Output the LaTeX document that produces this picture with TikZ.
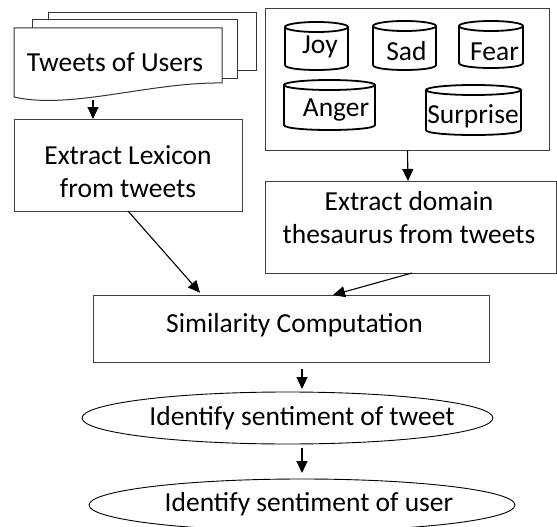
\documentclass[tikz,border=0pt]{standalone}
\usepackage{fontspec}
\setmainfont{Carlito}
\usetikzlibrary{arrows.meta,shapes.geometric,calc}

% cylinder drum: #1 left x, #2 right x, #3 top y, #4 bottom y (ellipse half-height 5)
\newcommand\drum[4]{%
  \path[drumline] (#1,#3+5) -- (#1,#4-5)
     .. controls (#1,#4+1.67) and (#2,#4+1.67) .. (#2,#4-5) -- (#2,#3+5);
  \path[drumline] ({(#1+#2)/2},#3+5) ellipse [x radius={(#2-#1)/2}, y radius=5];
}

\tikzset{
  every node/.style={font=\fontsize{27.5}{33}\selectfont, inner sep=0pt, outer sep=0pt},
  box/.style={draw=black!75, line width=1pt, fill=white, rectangle},
  sheet/.style={draw=black!80, line width=1pt, fill=white},
  oval/.style={draw=black, line width=0.9pt, ellipse},
  drumline/.style={draw=black, line width=1.8pt, fill=white},
  arr/.style={draw=black, line width=1.1pt, -{Triangle[length=12pt,width=11pt]}},
  lbl/.style={anchor=base, align=center},
}

\begin{document}
\begin{tikzpicture}[x=1pt, y=-1pt]
\useasboundingbox (0,0) rectangle (557,527);

% stack of tweet sheets
\path[sheet] (48,13) rectangle (256,71);
\path[sheet] (32,20) rectangle (237,79);
\path[sheet] (14,28) -- (222,28) -- (222,83)
   .. controls (150,82) and (70,110) .. (14,97) -- cycle;
\node[lbl] (tweets) at (115,71) {Tweets of Users};
\coordinate (tweetsbot) at (93,100);

% emotion lexicon container
\node[box, minimum width=284pt, minimum height=141pt] (thes) at (407,79.5) {};
\drum{285}{348}{22}{70}
\drum{373}{436}{21}{70}
\drum{459}{523}{21}{68}
\drum{284}{375}{80}{130}
\drum{426}{521}{85}{135}
\node[lbl] (joy) at (320,54) {Joy};
\node[lbl] (sad) at (406.5,60) {Sad};
\node[lbl] (fear) at (494.5,60) {Fear};
\node[lbl] (anger) at (336,117) {Anger};
\node[lbl] (surprise) at (473,123) {Surprise};

% processing steps (multi-line labels sit on the baseline of their last line)
\node[box, minimum width=228pt, minimum height=92pt] (lex) at (128,165) {};
\node[lbl] (lext) at (128,197) {Extract Lexicon\\from tweets};

\node[box, minimum width=291pt, minimum height=92pt] (dom) at (410.5,227) {};
\node[lbl] (domt) at (409,243) {Extract domain\\thesaurus from tweets};

\node[box, minimum width=396pt, minimum height=67pt] (sim) at (291,328.5) {};
\node[lbl] (simt) at (294.5,332) {Similarity Computation};

\node[oval, minimum width=411pt, minimum height=52pt] (st) at (287.5,418) {};
\node[lbl] (stt) at (302,425) {Identify sentiment of tweet};

\node[oval, minimum width=426pt, minimum height=52pt] (su) at (302,505) {};
\node[lbl] (sut) at (309,511) {Identify sentiment of user};

% connectors
\draw[arr] (tweetsbot) -- (tweetsbot |- lex.north);
\draw[arr] ([xshift=0.5pt]thes.south) -- ([xshift=1pt]thes.south |- dom.north);
\draw[arr, shorten >=3pt] (lex.south) -- ([xshift=-89pt]sim.north);
\draw[arr] ([xshift=1.5pt]dom.south) -- ([xshift=42pt]sim.north);
\draw[arr, shorten <=7pt, shorten >=3pt] ([xshift=11pt]sim.south) -- ([xshift=11pt]sim.south |- st.north);
\draw[arr, shorten <=4pt, shorten >=6pt] ([xshift=14.5pt]st.south) -- ([xshift=14.5pt]st.south |- su.north);
\end{tikzpicture}
\end{document}
